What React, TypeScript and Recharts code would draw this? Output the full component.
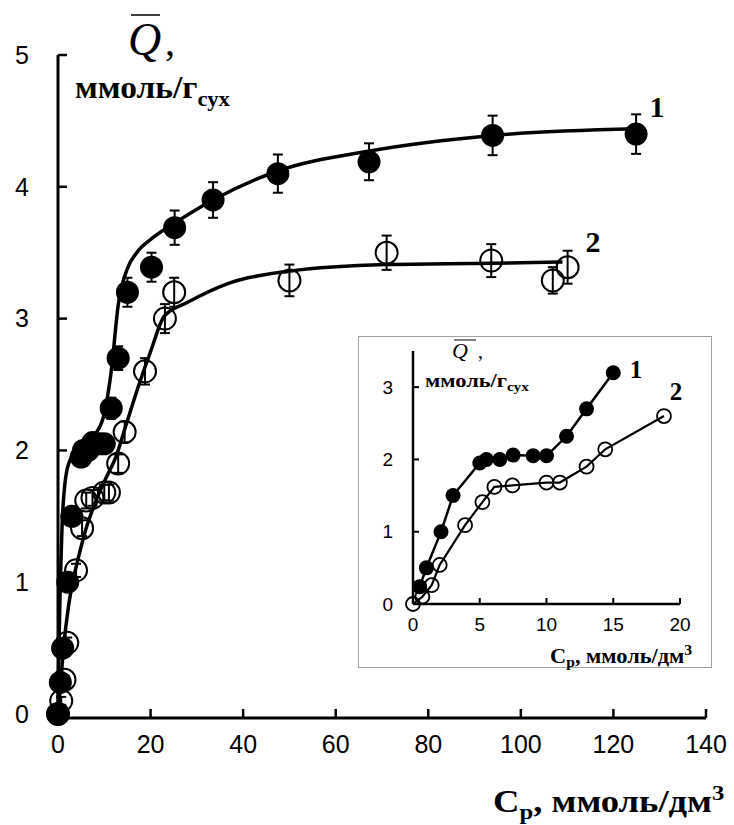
import { ComposedChart, Line, Scatter, XAxis, YAxis, ErrorBar } from 'recharts'

// series 1 (filled circles)
const cp1 = [0, 0.5, 1.0, 2.1, 3.0, 5.0, 5.5, 6.5, 7.5, 9.0, 10.0, 11.5, 13.0, 15.0, 20.2, 25.2, 33.5, 47.5, 67.2, 93.9, 124.9]
const q1 = [0, 0.24, 0.5, 1.0, 1.5, 1.95, 2.0, 2.0, 2.06, 2.05, 2.05, 2.32, 2.7, 3.2, 3.39, 3.69, 3.9, 4.1, 4.19, 4.39, 4.4]
const err1 = [0.03, 0.03, 0.04, 0.05, 0.05, 0.06, 0.06, 0.06, 0.06, 0.06, 0.06, 0.08, 0.09, 0.11, 0.11, 0.13, 0.135, 0.145, 0.14, 0.15, 0.15]

// series 2 (open circles)
const cp2 = [0, 0.7, 1.4, 2.0, 3.9, 5.2, 6.1, 7.45, 10.0, 11.0, 13.0, 14.4, 18.8, 23.1, 25.1, 50.0, 71.0, 93.6, 106.9, 110.1]
const q2 = [0, 0.1, 0.26, 0.54, 1.09, 1.41, 1.62, 1.64, 1.68, 1.68, 1.9, 2.14, 2.6, 3.0, 3.2, 3.29, 3.5, 3.44, 3.29, 3.39]
const err2 = [0.02, 0.03, 0.03, 0.04, 0.05, 0.06, 0.06, 0.06, 0.06, 0.06, 0.07, 0.08, 0.1, 0.11, 0.11, 0.12, 0.13, 0.125, 0.1, 0.125]

// fitted curves
const fitC1 = [0, 0.2, 0.5, 0.9, 1.5, 2.5, 4, 6, 8, 10, 11.5, 13, 15, 17, 20, 25, 33.5, 47.5, 67, 94, 125]
const fitQ1 = [0, 0.5, 1.0, 1.45, 1.75, 1.92, 2.0, 2.05, 2.12, 2.28, 2.6, 3.1, 3.38, 3.5, 3.6, 3.72, 3.9, 4.12, 4.27, 4.39, 4.44]
const fitC2 = [0, 0.5, 1.2, 2.2, 3.3, 4.5, 6, 8, 10.5, 12.5, 14.5, 17.5, 20, 23, 27.8, 37, 50, 71, 93.6, 109]
const fitQ2 = [0, 0.2, 0.5, 0.8, 1.02, 1.2, 1.4, 1.6, 1.8, 1.95, 2.17, 2.5, 2.75, 3.02, 3.12, 3.27, 3.36, 3.41, 3.42, 3.43]

const mainXTicks = [0, 20, 40, 60, 80, 100, 120, 140]
const mainYTicks = [0, 1, 2, 3, 4, 5]
const insetXTicks = [0, 5, 10, 15, 20]
const insetYTicks = [0, 1, 2, 3]

const pts = (c: number[], q: number[], e?: number[]) =>
  c.map((v, i) => ({ c: v, q: q[i], err: e ? e[i] : 0 }))

const s1 = pts(cp1, q1, err1)
const s2 = pts(cp2, q2, err2)
const fit1 = pts(fitC1, fitQ1)
const fit2 = pts(fitC2, fitQ2)
const inset1 = s1.filter(p => p.c > 0 && p.c <= 15)
const inset2 = s2.filter(p => p.c <= 20)

const sans = 'Liberation Sans, Arial, sans-serif'
const serif = 'Liberation Serif, Times New Roman, serif'

const filledDot = (r: number) => (p: any) => <circle key={p.key} cx={p.cx} cy={p.cy} r={r} fill="#000" />
const openDot = (r: number, w: number) => (p: any) =>
  <circle key={p.key} cx={p.cx} cy={p.cy} r={r} fill="none" stroke="#000" strokeWidth={w} />

function MainChart() {
  return (
    <ComposedChart width={734} height={825} margin={{ top: 55, right: 28, bottom: 67, left: 0 }}>
      <XAxis type="number" dataKey="c" domain={[0, 140]} ticks={mainXTicks} interval={0}
        height={40} tickSize={-9} tickMargin={26}
        axisLine={{ stroke: '#000', strokeWidth: 3 }} tickLine={{ stroke: '#000', strokeWidth: 2.5 }}
        tick={{ fill: '#000', fontSize: 25, fontFamily: sans }} />
      <YAxis type="number" dataKey="q" domain={[0, 5]} ticks={mainYTicks} interval={0}
        width={58} tickSize={-9} tickMargin={38}
        axisLine={{ stroke: '#000', strokeWidth: 3 }} tickLine={{ stroke: '#000', strokeWidth: 2.5 }}
        tick={{ fill: '#000', fontSize: 25, fontFamily: sans }} />
      <Line data={fit1} dataKey="q" type="monotone" stroke="#000" strokeWidth={3.5} dot={false} isAnimationActive={false} />
      <Line data={fit2} dataKey="q" type="monotone" stroke="#000" strokeWidth={3.5} dot={false} isAnimationActive={false} />
      <Scatter data={s2} dataKey="q" shape={openDot(11, 2)} isAnimationActive={false}>
        <ErrorBar dataKey="err" direction="y" width={5} stroke="#000" strokeWidth={2} />
      </Scatter>
      <Scatter data={s1} dataKey="q" shape={filledDot(11.5)} isAnimationActive={false}>
        <ErrorBar dataKey="err" direction="y" width={5} stroke="#000" strokeWidth={2} />
      </Scatter>
    </ComposedChart>
  )
}

function InsetChart() {
  return (
    <ComposedChart width={354} height={332} margin={{ top: 15, right: 32, bottom: 34, left: 0 }}>
      <XAxis type="number" dataKey="c" domain={[0, 20]} ticks={insetXTicks} interval={0}
        height={30} tickSize={-6} tickMargin={20}
        axisLine={{ stroke: '#000', strokeWidth: 2.5 }} tickLine={{ stroke: '#000', strokeWidth: 2 }}
        tick={{ fill: '#000', fontSize: 19, fontFamily: sans }} />
      <YAxis type="number" dataKey="q" domain={[0, 3.5]} ticks={insetYTicks} interval={0}
        width={55} tickSize={-6} tickMargin={26}
        axisLine={{ stroke: '#000', strokeWidth: 2.5 }} tickLine={{ stroke: '#000', strokeWidth: 2 }}
        tick={{ fill: '#000', fontSize: 19, fontFamily: sans }} />
      <Line data={inset2} dataKey="q" type="linear" stroke="#000" strokeWidth={2.2} dot={openDot(7, 1.8)} isAnimationActive={false} />
      <Line data={inset1} dataKey="q" type="linear" stroke="#000" strokeWidth={2.5} dot={filledDot(7.5)} isAnimationActive={false} />
    </ComposedChart>
  )
}

export default function App() {
  return (
    <div style={{ position: 'absolute', left: 0, top: 0, width: 734, height: 825, background: '#fff' }}>
      <MainChart />
      <div style={{ position: 'absolute', left: 358, top: 336, width: 352, height: 330, border: '1px solid #a0a0a0', background: '#fff' }}>
        <div style={{ position: 'absolute', left: -1, top: -1 }}>
          <InsetChart />
        </div>
      </div>
      <svg width={734} height={825} style={{ position: 'absolute', left: 0, top: 0, pointerEvents: 'none' }}>
        {/* main axis titles */}
        <line x1={131} y1={15} x2={160} y2={15} stroke="#000" strokeWidth={1.5} />
        <text x={128} y={55} fontFamily={serif} fontStyle="italic" fontSize={46}>Q</text>
        <text x={165} y={55} fontFamily={serif} fontSize={40}>,</text>
        <g transform="translate(75,98) scale(1.08,1)">
          <text x={0} y={0} fontFamily={serif} fontWeight="bold" fontSize={31}>
            ммоль/г<tspan fontSize={21} dy={8}>сух</tspan>
          </text>
        </g>
        <g transform="translate(493,812) scale(1.18,1)">
          <text x={0} y={0} fontFamily={serif} fontWeight="bold" fontSize={31}>
            C<tspan fontSize={21} dy={7}>p</tspan><tspan dy={-7}>, ммоль/дм</tspan><tspan fontSize={21} dy={-12}>3</tspan>
          </text>
        </g>
        <text x={657} y={117} textAnchor="middle" fontFamily={serif} fontWeight="bold" fontSize={30}>1</text>
        <text x={593} y={252} textAnchor="middle" fontFamily={serif} fontWeight="bold" fontSize={30}>2</text>
        {/* inset titles */}
        <line x1={454} y1={340} x2={476} y2={340} stroke="#000" strokeWidth={1} />
        <text x={452} y={358} fontFamily={serif} fontStyle="italic" fontSize={22}>Q</text>
        <text x={478} y={358} fontFamily={serif} fontSize={20}>,</text>
        <g transform="translate(425,387) scale(1.18,1)">
          <text x={0} y={0} fontFamily={serif} fontWeight="bold" fontSize={19}>
            ммоль/г<tspan fontSize={13} dy={4}>сух</tspan>
          </text>
        </g>
        <g transform="translate(550,663) scale(1.12,1)">
          <text x={0} y={0} fontFamily={serif} fontWeight="bold" fontSize={20}>
            C<tspan fontSize={14} dy={4}>p</tspan><tspan dy={-4}>, ммоль/дм</tspan><tspan fontSize={14} dy={-8}>3</tspan>
          </text>
        </g>
        <text x={636} y={378} textAnchor="middle" fontFamily={serif} fontWeight="bold" fontSize={25}>1</text>
        <text x={676} y={400} textAnchor="middle" fontFamily={serif} fontWeight="bold" fontSize={25}>2</text>
      </svg>
    </div>
  )
}
